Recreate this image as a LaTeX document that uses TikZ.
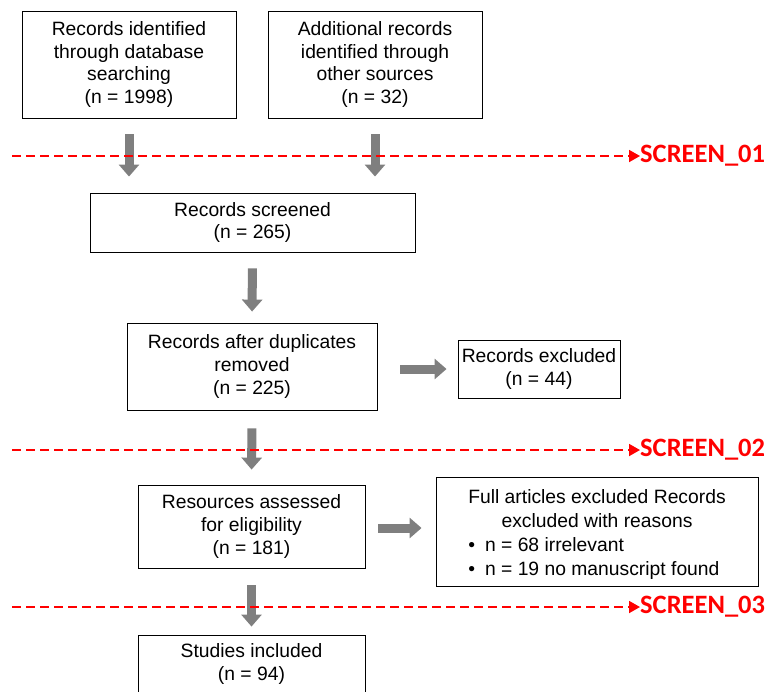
\documentclass[tikz,border=0pt]{standalone}
\usepackage{fontspec}
\setmainfont{Liberation Sans}
\newfontfamily\labelfont{Carlito}
\usetikzlibrary{arrows.meta}
\definecolor{arrowgray}{RGB}{127,127,127}
\definecolor{screenred}{RGB}{255,0,0}
\tikzset{
  box/.style={draw=black, line width=0.9pt, fill=white, align=center, inner sep=0pt,
    font=\fontsize{19.3}{22.8}\selectfont},
  flowdown/.style={draw=arrowgray, line width=9pt,
    -{Triangle[width=20pt,length=12pt]}},
  screenline/.style={draw=screenred, line width=1.8pt, dash pattern=on 9pt off 5pt,
    -{Triangle[width=12pt,length=11pt]}},
  screenlabel/.style={text=screenred, anchor=west, inner sep=0pt,
    font=\labelfont\bfseries\fontsize{26.5}{28}\selectfont}
}
\begin{document}
\begin{tikzpicture}[x=1pt,y=-1pt]
\useasboundingbox (0,0) rectangle (767,691);
\clip (0,0) rectangle (767,691);

% boxes of the flow
\node[box, minimum width=214pt, minimum height=107pt] (b1) at (129,64.5)
  {Records identified\\through database\\searching\\(n = 1998)};
\node[box, minimum width=214pt, minimum height=107pt] (b2) at (375,64.5)
  {Additional records\\identified through\\other sources\\(n = 32)};
\node[box, minimum width=325pt, minimum height=59pt] (b3) at (252.5,222.5)
  {Records screened\\(n = 265)};
\node[box, minimum width=250pt, minimum height=87pt] (b4) at (252,366.5)
  {Records after duplicates\\removed\\(n = 225)};
\node[box, minimum width=162pt, minimum height=58pt] (b5) at (539,369)
  {Records excluded\\(n = 44)};
\node[box, minimum width=227pt, minimum height=83pt] (b6) at (251.5,526.5)
  {Resources assessed\\for eligibility\\(n = 181)};
\node[box, minimum width=322pt, minimum height=109pt] (b7) at (597,531.5)
  {\raisebox{-3pt}[\height][\depth]{\renewcommand\arraystretch{1.05}%
   \begin{tabular}{@{}l@{}}
   \multicolumn{1}{@{}c@{}}{Full articles excluded Records}\\
   \multicolumn{1}{@{}c@{}}{excluded with reasons}\\
   \textbullet\hspace{10pt}n = 68 irrelevant\\
   \textbullet\hspace{10pt}n = 19 no manuscript found
   \end{tabular}}};
\node[box, minimum width=227pt, minimum height=58pt] (b8) at (251.5,664)
  {Studies included\\(n = 94)};

% grey flow arrows
\draw[flowdown, shorten <=16pt, shorten >=16pt] (b1.south) -- (b1.south |- b3.north);
\draw[flowdown, shorten <=16pt, shorten >=16pt] (b2.south) -- (b2.south |- b3.north);
\draw[flowdown, shorten <=16pt, shorten >=11pt] (b3.south) -- (b4.north);
\draw[flowdown, shorten <=18pt, shorten >=15pt] (b4.south) -- (b6.north);
\draw[flowdown, shorten <=17pt, shorten >=8pt] (b6.south) -- (b8.north);
\draw[flowdown, shorten <=23pt, shorten >=11pt] (b4.east |- b5.west) -- (b5.west);
\draw[flowdown, shorten <=13pt, shorten >=14pt] (b6.east |- 0,528) -- (b7.west |- 0,528);

% screening stages
\coordinate (s1) at (12,156);
\coordinate (s2) at (12,450);
\coordinate (s3) at (12,607);
\node[screenlabel] (l1) at (640,156) {SCREEN\_01};
\node[screenlabel] (l2) at (640,450) {SCREEN\_02};
\node[screenlabel] (l3) at (640,607) {SCREEN\_03};
\draw[screenline] (s1) -- (l1.west);
\draw[screenline] (s2) -- (l2.west);
\draw[screenline] (s3) -- (l3.west);
\end{tikzpicture}
\end{document}
